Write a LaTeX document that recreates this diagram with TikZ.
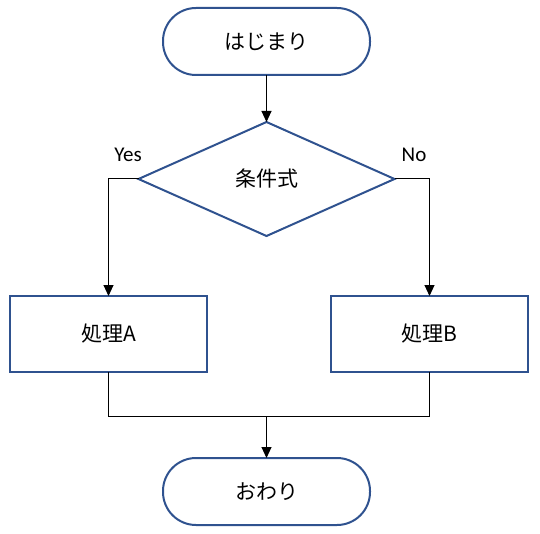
\documentclass[tikz,border=0pt]{standalone}
\usepackage{fontspec}
\setmainfont{Noto Sans CJK JP}
\newfontfamily\yesno{Carlito}
\usetikzlibrary{shapes.geometric,arrows.meta}
\definecolor{flowblue}{HTML}{2F528F}
\tikzset{
  box/.style={draw=flowblue,line width=2pt,rectangle,minimum width=197pt,minimum height=76pt,outer sep=0pt},
  term/.style={draw=flowblue,line width=2pt,rectangle,rounded corners=33pt,minimum width=207pt,minimum height=67pt,outer sep=0pt},
  cond/.style={draw=flowblue,line width=2pt,diamond,minimum width=256pt,minimum height=114pt,inner sep=0pt,outer sep=0pt},
  flow/.style={line width=1pt,-{Triangle[width=10pt,length=11pt]}},
  branch/.style={font=\yesno\fontsize{21}{24}\selectfont}
}
\begin{document}
\begin{tikzpicture}[x=1pt,y=-1pt,font=\fontsize{21}{24}\selectfont]
\useasboundingbox (0,0) rectangle (540,534);
\node[term] (start) at (266.5,41.5) {はじまり};
\node[cond] (check) at (266.5,179) {条件式};
\node[box] (procA) at (108.5,334) {処理A};
\node[box] (procB) at (429.5,334) {処理B};
\node[term] (finish) at (266.5,491.5) {おわり};
\coordinate (join) at (266.5,416);

\draw[flow] (start) -- (check);
\draw[flow] (check.west) -| (procA);
\draw[flow] (check.east) -| (procB);
\draw[line width=1pt] (procA.south) -- (procA.south |- join) -- (procB.south |- join) -- (procB.south);
\draw[flow] (join) -- (finish);

\node[branch] (yes) at (128,155) {Yes};
\node[branch] (no) at (414,155) {No};
\end{tikzpicture}
\end{document}
